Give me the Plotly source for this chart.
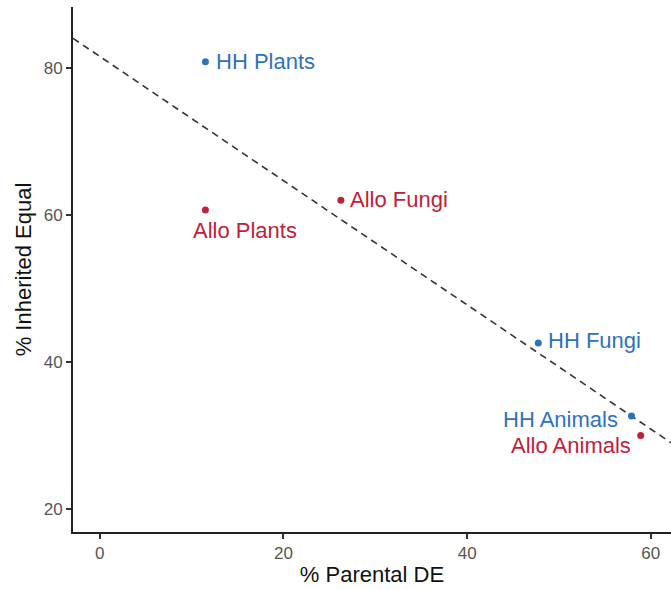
import plotly.graph_objects as go

# Data
labels = ["HH Plants", "Allo Plants", "Allo Fungi", "HH Fungi", "HH Animals", "Allo Animals"]
groups = ["HH", "Allo", "Allo", "HH", "HH", "Allo"]
parental_de = [11.5, 11.5, 26.25, 47.75, 57.9, 58.9]
inherited_equal = [80.9, 60.7, 62.05, 42.6, 32.65, 30.0]

fit_intercept = 81.62
fit_slope = -0.846

x_range = [-2.92, 62.2]
y_range = [16.84, 88.36]
x_ticks = [0, 20, 40, 60]
y_ticks = [20, 40, 60, 80]

colors = {"HH": "#2F72BC", "Allo": "#C0213A"}
FONT = "Liberation Sans, Arial, sans-serif"

# label placement: (xanchor, xshift, yshift)
placements = {
    "HH Plants": ("left", 9, 0),
    "Allo Plants": ("center", 40, -20),
    "Allo Fungi": ("left", 7, 1),
    "HH Fungi": ("left", 8, 2),
    "HH Animals": ("right", -12, -4),
    "Allo Animals": ("right", -8, -10),
}

fig = go.Figure()

# fitted dashed line across the full x range
fig.add_trace(go.Scatter(
    x=x_range,
    y=[fit_intercept + fit_slope * v for v in x_range],
    mode="lines",
    line=dict(color="#333333", width=1.6, dash="7px,5px"),
    hoverinfo="skip",
    showlegend=False,
))

for g in ["HH", "Allo"]:
    xs = [x for x, gg in zip(parental_de, groups) if gg == g]
    ys = [y for y, gg in zip(inherited_equal, groups) if gg == g]
    fig.add_trace(go.Scatter(
        x=xs, y=ys, mode="markers",
        marker=dict(color=colors[g], size=7),
        showlegend=False,
    ))

for lab, g, x, y in zip(labels, groups, parental_de, inherited_equal):
    xa, xs, ys = placements[lab]
    fig.add_annotation(
        x=x, y=y, xref="x", yref="y", text=lab, showarrow=False,
        xanchor=xa, yanchor="middle", xshift=xs, yshift=ys,
        font=dict(family=FONT, size=22, color=colors[g]),
    )

axis_common = dict(
    showgrid=False, zeroline=False, showline=True,
    linecolor="#222222", linewidth=2,
    ticks="outside", ticklen=5, tickwidth=2, tickcolor="#333333",
    tickfont=dict(family=FONT, size=17, color="#555555"),
)

fig.update_xaxes(
    range=x_range, tickvals=x_ticks,
    title=dict(text="% Parental DE", font=dict(family=FONT, size=22, color="#111111"), standoff=4),
    **axis_common,
)
fig.update_yaxes(
    range=y_range, tickvals=y_ticks,
    title=dict(text="% Inherited Equal", font=dict(family=FONT, size=22, color="#111111"), standoff=6),
    **axis_common,
)

fig.update_layout(
    width=671, height=589,
    margin=dict(l=73, r=0, t=7, b=57),
    plot_bgcolor="white", paper_bgcolor="white",
    font=dict(family=FONT),
)

fig.write_html(
    "out.html",
    config={"displayModeBar": False},
    post_script="document.body.style.margin='0';document.body.style.overflow='hidden';",
)
